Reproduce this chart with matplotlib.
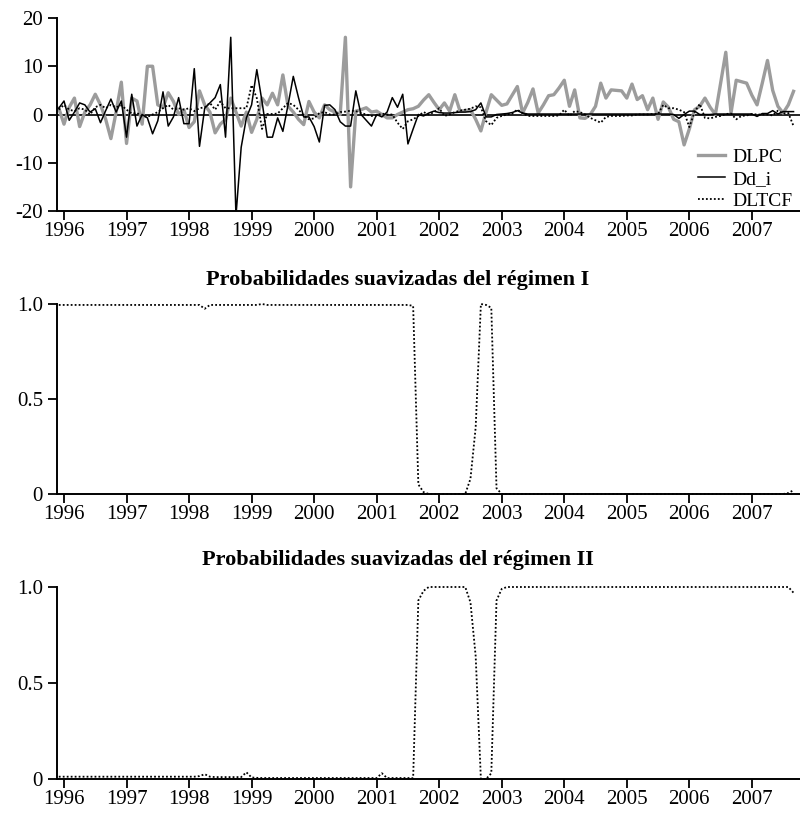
import matplotlib
matplotlib.use('Agg')
import matplotlib.pyplot as plt

plt.rcParams['font.family'] = ['Liberation Serif', 'DejaVu Serif']
plt.rcParams['axes.unicode_minus'] = False

# ---------------- data (monthly, Dec 1995 .. Sep 2007) ----------------
start_year = 1995 + 11 / 12

DLPC = [
    1.3, -2.0, 1.5, 3.4, -2.5, 0.5, 2.0, 4.2, 2.0, -1.0,
    -5.0, 0.5, 6.7, -6.0, 3.4, 2.8, -2.0, 10.0, 10.0, 2.0,
    1.5, 4.5, 2.7, 0.0, 1.0, -2.7, -1.5, 4.9, 2.0, 0.5,
    -3.8, -2.0, -1.0, 3.4, 0.5, -2.4, 0.5, -3.7, -1.0, 3.4,
    2.0, 4.4, 2.0, 8.2, 1.7, 0.5, -1.0, -2.1, 2.7, 0.5,
    -0.7, 2.0, 1.0, 0.5, 0.0, 16.0, -15.0, 0.7, 1.0, 1.4,
    0.5, 0.7, 0.0, -0.7, -0.7, 0.0, 0.5, 1.0, 1.2, 1.7,
    3.0, 4.1, 2.5, 1.0, 2.4, 0.7, 4.1, 0.7, 0.8, 1.0,
    -1.0, -3.4, 0.5, 4.1, 3.0, 1.9, 2.2, 4.0, 5.8, 0.3,
    2.5, 5.3, 0.3, 2.0, 3.9, 4.1, 5.5, 7.1, 1.7, 5.1,
    -0.7, -0.8, 0.0, 1.7, 6.5, 3.4, 5.1, 5.0, 4.9, 3.4,
    6.3, 3.1, 3.9, 1.0, 3.4, -1.0, 2.6, 1.5, -1.0, -1.5,
    -6.3, -3.0, 1.0, 1.7, 3.4, 1.5, 0.0, 6.5, 12.9, 0.3,
    7.1, 6.8, 6.5, 4.0, 2.0, 6.5, 11.2, 5.0, 1.7, 0.3,
    2.0, 4.8,
]

Dd_i = [
    1.3, 2.8, -1.2, 0.5, 2.4, 2.0, 0.5, 1.2, -1.7, 0.8,
    3.2, 0.5, 2.8, -4.7, 4.2, -2.4, 0.0, -0.7, -4.0, -1.3,
    4.7, -2.4, -0.5, 3.5, -1.9, -1.9, 9.5, -6.6, 1.3, 2.4,
    3.5, 6.2, -4.7, 16.0, -21.0, -6.8, -0.7, 2.0, 9.3, 2.7,
    -4.7, -4.7, -0.7, -3.5, 2.0, 7.9, 3.5, -0.5, -0.5, -2.5,
    -5.7, 1.9, 2.0, 1.0, -1.5, -2.4, -2.4, 4.9, 0.0, -1.2,
    -2.4, 0.0, -0.5, 0.5, 3.5, 1.5, 4.2, -6.1, -3.0, 0.0,
    -0.3, 0.3, 0.7, 0.4, 0.3, 0.3, 0.4, 0.5, 0.5, 0.6,
    1.0, 2.4, -0.5, -0.5, 0.0, 0.1, 0.2, 0.4, 0.8, 0.3,
    0.1, 0.1, 0.1, 0.1, 0.1, 0.1, 0.1, 0.1, 0.1, 0.1,
    0.1, 0.1, 0.1, 0.1, 0.1, 0.1, 0.1, 0.1, 0.1, 0.1,
    0.1, 0.1, 0.1, 0.1, 0.1, 0.1, 0.1, 0.1, 0.0, -0.8,
    0.0, 0.7, 0.7, 0.0, 0.0, 0.0, 0.1, 0.1, 0.1, 0.1,
    0.1, 0.1, 0.1, 0.1, -0.4, 0.2, 0.2, 0.8, 0.1, 0.6,
    0.6, 0.6,
]

DLTCF = [
    1.0, 2.0, 1.0, 0.7, 1.3, 1.0, 0.0, 1.5, 2.0, 1.3,
    2.0, 1.5, 1.9, 1.0, 0.2, 0.3, -0.3, -0.5, 0.0, 0.5,
    1.3, 2.0, 1.0, 1.3, 1.0, 1.3, 0.7, 1.3, 1.5, 2.4,
    1.0, 2.7, 1.3, 1.3, 1.3, 1.3, 1.3, 6.1, 3.4, -3.0,
    0.1, 0.1, 0.2, 1.3, 2.4, 2.0, 1.0, -0.2, -1.0, -0.8,
    0.3, 0.5, 0.0, 0.0, 0.5, 0.6, 0.8, 0.7, 0.3, 0.0,
    -0.3, -0.2, 0.2, 0.0, 0.0, -1.7, -3.0, -1.4, -1.0, -0.3,
    0.5, 0.0, 0.5, 1.3, -0.3, 0.0, 0.5, 0.8, 1.0, 1.2,
    1.7, 1.5, -1.4, -2.2, -0.7, -0.3, 0.0, 0.2, 1.0, 0.3,
    -0.3, -0.3, -0.3, -0.3, -0.3, -0.3, -0.2, 1.0, -0.3, 0.7,
    0.5, 0.0, -0.7, -1.2, -1.7, -0.5, -0.3, -0.3, -0.3, -0.2,
    -0.2, 0.0, 0.0, 0.0, 0.1, 0.1, 2.0, 1.3, 1.3, 1.0,
    0.5, -2.6, 0.5, 2.2, -0.7, -0.8, -0.5, -0.3, 0.1, 0.2,
    -1.0, -0.3, -0.2, 0.1, 0.0, 0.0, 0.0, -0.2, 0.8, 0.2,
    0.3, -2.4,
]

prob_regime_I = [
    0.995, 0.995, 0.995, 0.995, 0.995, 0.995, 0.995, 0.995, 0.995, 0.995,
    0.995, 0.995, 0.995, 0.995, 0.995, 0.995, 0.995, 0.995, 0.995, 0.995,
    0.995, 0.995, 0.995, 0.995, 0.995, 0.995, 0.995, 0.995, 0.975, 0.995,
    0.995, 0.995, 0.995, 0.995, 0.995, 0.995, 0.995, 0.995, 0.995, 1.0,
    0.995, 0.995, 0.995, 0.995, 0.995, 0.995, 0.995, 0.995, 0.995, 0.995,
    0.995, 0.995, 0.995, 0.995, 0.995, 0.995, 0.995, 0.995, 0.995, 0.995,
    0.995, 0.995, 0.995, 0.995, 0.995, 0.995, 0.995, 0.995, 0.99, 0.05,
    0.01, 0.0, 0.0, 0.0, 0.0, 0.0, 0.0, 0.0, 0.0, 0.08,
    0.35, 1.0, 0.995, 0.98, 0.03, 0.0, 0.0, 0.0, 0.0, 0.0,
    0.0, 0.0, 0.0, 0.0, 0.0, 0.0, 0.0, 0.0, 0.0, 0.0,
    0.0, 0.0, 0.0, 0.0, 0.0, 0.0, 0.0, 0.0, 0.0, 0.0,
    0.0, 0.0, 0.0, 0.0, 0.0, 0.0, 0.0, 0.0, 0.0, 0.0,
    0.0, 0.0, 0.0, 0.0, 0.0, 0.0, 0.0, 0.0, 0.0, 0.0,
    0.0, 0.0, 0.0, 0.0, 0.0, 0.0, 0.0, 0.0, 0.0, 0.0,
    0.005, 0.02,
]

prob_regime_II = [
    0.012, 0.012, 0.012, 0.012, 0.012, 0.012, 0.012, 0.012, 0.012, 0.012,
    0.012, 0.012, 0.012, 0.012, 0.012, 0.012, 0.012, 0.012, 0.012, 0.012,
    0.012, 0.012, 0.012, 0.012, 0.012, 0.012, 0.012, 0.015, 0.025, 0.012,
    0.01, 0.01, 0.01, 0.01, 0.01, 0.01, 0.035, 0.008, 0.006, 0.005,
    0.005, 0.005, 0.005, 0.005, 0.005, 0.005, 0.005, 0.005, 0.005, 0.005,
    0.005, 0.005, 0.005, 0.005, 0.005, 0.005, 0.005, 0.005, 0.005, 0.005,
    0.005, 0.005, 0.03, 0.005, 0.005, 0.005, 0.005, 0.005, 0.005, 0.93,
    0.98, 1.0, 1.0, 1.0, 1.0, 1.0, 1.0, 1.0, 1.0, 0.92,
    0.64, 0.0, 0.0, 0.03, 0.93, 0.99, 1.0, 1.0, 1.0, 1.0,
    1.0, 1.0, 1.0, 1.0, 1.0, 1.0, 1.0, 1.0, 1.0, 1.0,
    1.0, 1.0, 1.0, 1.0, 1.0, 1.0, 1.0, 1.0, 1.0, 1.0,
    1.0, 1.0, 1.0, 1.0, 1.0, 1.0, 1.0, 1.0, 1.0, 1.0,
    1.0, 1.0, 1.0, 1.0, 1.0, 1.0, 1.0, 1.0, 1.0, 1.0,
    1.0, 1.0, 1.0, 1.0, 1.0, 1.0, 1.0, 1.0, 1.0, 1.0,
    1.0, 0.97,
]

year_ticks = [1996, 1997, 1998, 1999, 2000, 2001, 2002, 2003, 2004, 2005, 2006, 2007]
year_labels = [str(y) for y in year_ticks]
top_yticks = [-20, -10, 0, 10, 20]
top_ylabels = ['-20', '-10', '0', '10', '20']
prob_yticks = [0, 0.5, 1.0]
prob_ylabels = ['0', '0.5', '1.0']
title_I = 'Probabilidades suavizadas del régimen I'
title_II = 'Probabilidades suavizadas del régimen II'

dates = [start_year + i / 12 for i in range(len(DLPC))]

# ---------------- figure ----------------
W, H = 800, 817
fig = plt.figure(figsize=(W / 100, H / 100), dpi=100)

def px_axes(left, top, right, bottom):
    return fig.add_axes([left / W, 1 - bottom / H, (right - left) / W, (bottom - top) / H])

XLIM = (1995.888, 2007.77)
FS = 15

def style(ax):
    for s in ('top', 'right'):
        ax.spines[s].set_visible(False)
    for s in ('left', 'bottom'):
        ax.spines[s].set_linewidth(1.4)
    ax.tick_params(axis='both', direction='out', length=6.5, width=1.3, labelsize=FS)
    ax.tick_params(axis='x', pad=1.5)
    ax.tick_params(axis='y', pad=3.5)
    ax.set_xlim(*XLIM)
    ax.set_xticks(year_ticks)
    ax.set_xticklabels(year_labels)

ax1 = px_axes(57, 18, 800, 211)
ax2 = px_axes(57, 304, 800, 494)
ax3 = px_axes(57, 587, 800, 779)

# top panel
style(ax1)
ax1.axhline(0, color='black', lw=1.2, zorder=1)
ax1.plot(dates, DLPC, color='#9c9c9c', lw=2.4, label='DLPC', zorder=2)
ax1.plot(dates, Dd_i, color='black', lw=1.1, label='Dd_i', zorder=3)
ax1.plot(dates, DLTCF, color='black', lw=1.3, ls=(0, (1, 1.2)), label='DLTCF', zorder=3)
ax1.set_ylim(-20, 20)
ax1.set_yticks(top_yticks)
ax1.set_yticklabels(top_ylabels)
ax1.legend(loc='lower right', bbox_to_anchor=(0.99, 0.005), frameon=False,
           fontsize=14, handlelength=1.35, handletextpad=0.4, labelspacing=0.22,
           borderpad=0, borderaxespad=0)

# middle panel
style(ax2)
ax2.plot(dates, prob_regime_I, color='black', lw=1.3, ls=(0, (1, 1.2)), clip_on=False)
ax2.set_ylim(0, 1.0)
ax2.set_yticks(prob_yticks)
ax2.set_yticklabels(prob_ylabels)

# bottom panel
style(ax3)
ax3.plot(dates, prob_regime_II, color='black', lw=1.3, ls=(0, (1, 1.2)), clip_on=False)
ax3.set_ylim(0, 1.0)
ax3.set_yticks(prob_yticks)
ax3.set_yticklabels(prob_ylabels)

fig.text(0.497, 1 - 280 / H, title_I, ha='center', va='center', fontsize=16, fontweight='bold')
fig.text(0.497, 1 - 560 / H, title_II, ha='center', va='center', fontsize=16, fontweight='bold')

fig.savefig('out.png', dpi=100)
